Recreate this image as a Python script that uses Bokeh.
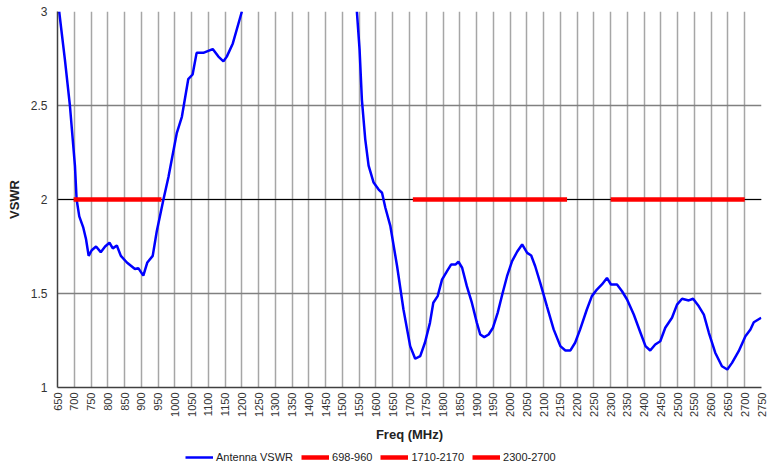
import math
from bokeh.plotting import figure
from bokeh.layouts import column
from bokeh.models import (Range1d, FixedTicker, CustomJSTickFormatter, Span,
                          Legend, LegendItem)
from bokeh.embed import file_html
from bokeh.resources import INLINE

nan = float("nan")

# Antenna VSWR curve (values above 3 are off-chart -> gap)
freq_mhz = [655, 672, 687, 702, 707, 715, 727, 735, 743, 752, 765, 779, 792, 805,
            815, 827, 839, 857, 881, 891, 906, 918, 934, 946, 966, 981, 1006,
            1021, 1040, 1053, 1065, 1085, 1113, 1130, 1145, 1155, 1173, 1200,
            1370,
            1543, 1551, 1558, 1568, 1578, 1593, 1608, 1618, 1628, 1643, 1663,
            1682, 1702, 1717, 1732, 1746, 1761, 1771, 1784, 1797, 1812, 1824,
            1837, 1846, 1857, 1871, 1886, 1901, 1911, 1923, 1936, 1949, 1963,
            1978, 1991, 2006, 2021, 2036, 2051, 2063, 2075, 2090, 2110, 2130,
            2150, 2165, 2180, 2194, 2209, 2229, 2244, 2259, 2274, 2289, 2301,
            2319, 2334, 2349, 2369, 2389, 2404, 2418, 2433, 2448, 2463, 2483,
            2498, 2513, 2533, 2546, 2563, 2578, 2593, 2612, 2632, 2648, 2662,
            2682, 2702, 2717, 2727, 2749]
vswr = [3.00, 2.745, 2.50, 2.18, 2.00, 1.91, 1.85, 1.79, 1.70, 1.73, 1.75, 1.72,
        1.75, 1.77, 1.74, 1.755, 1.70, 1.665, 1.63, 1.635, 1.595, 1.665, 1.70,
        1.83, 2.00, 2.12, 2.355, 2.44, 2.64, 2.665, 2.78, 2.78, 2.80, 2.76,
        2.735, 2.76, 2.83, 3.00,
        nan,
        3.00, 2.80, 2.53, 2.32, 2.18, 2.09, 2.053, 2.036, 1.956, 1.858, 1.645,
        1.415, 1.22, 1.153, 1.167, 1.238, 1.344, 1.451, 1.486, 1.574, 1.619,
        1.654, 1.654, 1.669, 1.637, 1.539, 1.451, 1.344, 1.282, 1.268, 1.282,
        1.318, 1.397, 1.504, 1.592, 1.672, 1.722, 1.761, 1.716, 1.702, 1.645,
        1.557, 1.432, 1.309, 1.22, 1.197, 1.197, 1.238, 1.309, 1.415, 1.486,
        1.521, 1.548, 1.583, 1.548, 1.548, 1.512, 1.468, 1.388, 1.291, 1.22,
        1.197, 1.229, 1.246, 1.318, 1.371, 1.441, 1.472, 1.463, 1.472, 1.432,
        1.388, 1.291, 1.185, 1.113, 1.096, 1.131, 1.193, 1.273, 1.309, 1.347,
        1.371]

band_names = ["698-960", "1710-2170", "2300-2700"]
band_start = [698, 1710, 2300]
band_end = [960, 2170, 2700]
band_limit = 2.0

x_ticks = list(range(650, 2751, 50))
y_ticks = [1, 1.5, 2, 2.5, 3]

FONT = "Liberation Sans"
BLUE = "#0000ff"
RED = "#ff0000"

p = figure(width=769, height=444, x_range=Range1d(650, 2750), y_range=Range1d(1, 3),
           output_backend="svg", toolbar_location=None,
           min_border_left=57, min_border_right=8, min_border_top=11,
           min_border_bottom=56, background_fill_color="white",
           border_fill_color="white")
p.outline_line_color = None

# grids
p.xgrid.ticker = FixedTicker(ticks=x_ticks)
p.ygrid.ticker = FixedTicker(ticks=y_ticks)
p.xgrid.grid_line_color = "#a6a6a6"
p.xgrid.grid_line_width = 1.5
p.ygrid.grid_line_color = "#808080"
p.ygrid.grid_line_width = 1.5

# axes
p.xaxis.ticker = FixedTicker(ticks=x_ticks)
p.yaxis.ticker = FixedTicker(ticks=y_ticks)
p.yaxis.formatter = CustomJSTickFormatter(code="return tick.toString();")
p.xaxis.major_label_orientation = math.pi / 2
for ax in (p.xaxis[0], p.yaxis[0]):
    ax.major_tick_out = 0
    ax.major_tick_in = 0
    ax.minor_tick_out = 0
    ax.minor_tick_in = 0
    ax.axis_line_color = "#404040"
    ax.axis_line_width = 1.5
    ax.major_label_text_font = FONT
    ax.major_label_text_color = "#333333"
    ax.axis_label_text_font = FONT
    ax.axis_label_text_font_style = "bold"
    ax.axis_label_text_font_size = "13px"
    ax.axis_label_text_color = "#222222"
p.xaxis.major_label_text_font_size = "11px"
p.yaxis.major_label_text_font_size = "12px"
p.xaxis.major_label_standoff = 5
p.yaxis.major_label_standoff = 10
p.xaxis.axis_label = "Freq (MHz)"
p.yaxis.axis_label = "VSWR"
p.xaxis.axis_label_standoff = 7
p.yaxis.axis_label_standoff = 6

# 2.0 limit line
p.add_layout(Span(location=band_limit, dimension="width", line_color="black",
                  line_width=1.2, level="underlay"))

p.line(freq_mhz, vswr, line_color=BLUE, line_width=2.5)
for s, e in zip(band_start, band_end):
    p.line([s, e], [band_limit, band_limit], line_color=RED, line_width=4.5)

# legend strip below the chart
lg = figure(width=769, height=22, x_range=Range1d(0, 1), y_range=Range1d(0, 1),
            output_backend="svg", toolbar_location=None,
            min_border_left=0, min_border_right=0, min_border_top=0,
            min_border_bottom=0, border_fill_color="white")
lg.axis.visible = False
lg.grid.visible = False
lg.outline_line_color = None
items = []
r0 = lg.line([nan], [nan], line_color=BLUE, line_width=2.5)
items.append(LegendItem(label="Antenna VSWR", renderers=[r0]))
for name in band_names:
    r = lg.line([nan], [nan], line_color=RED, line_width=4.5)
    items.append(LegendItem(label=name, renderers=[r]))

legend = Legend(items=items, orientation="horizontal", location=(128, 3),
                label_text_font=FONT, label_text_font_size="11px",
                label_text_color="#222222", glyph_width=28, glyph_height=12,
                label_standoff=3, spacing=8, padding=2, margin=0,
                background_fill_alpha=0, border_line_color=None,
                label_height=12)
lg.add_layout(legend, "center")

layout = column(p, lg, spacing=0)
open("out.html", "w").write(file_html(layout, INLINE))
